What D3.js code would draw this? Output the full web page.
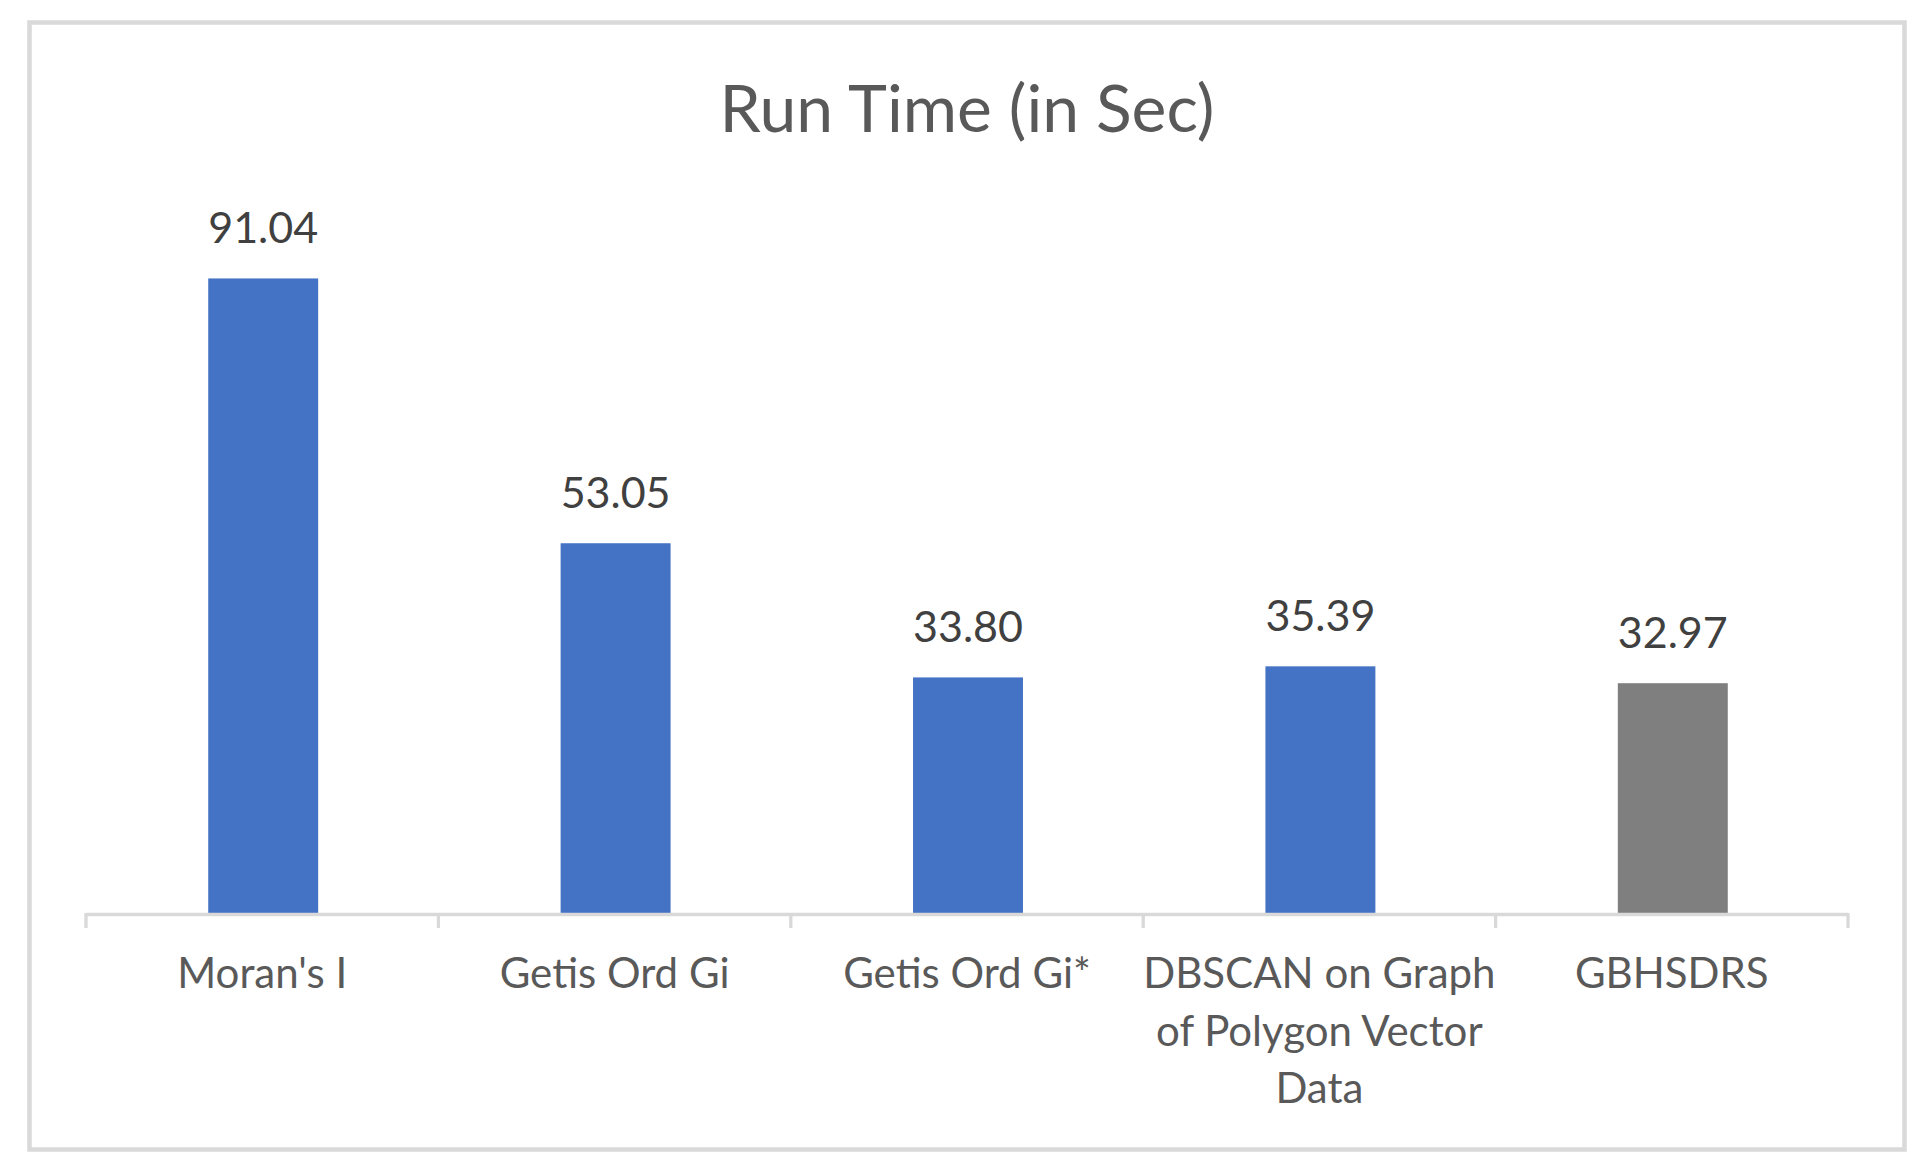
<!DOCTYPE html>
<html>
<head>
<meta charset="utf-8">
<script src="https://cdn.jsdelivr.net/npm/d3@7"></script>
<style>
  html, body { margin: 0; padding: 0; background: #ffffff; }
  svg { display: block; }
  text { font-family: Lato, "Open Sans", sans-serif; }
</style>
</head>
<body>
<script>
// ---- data ----
const title = "Run Time (in Sec)";
const categories = ["Moran's I", "Getis Ord Gi", "Getis Ord Gi*", "DBSCAN on Graph of Polygon Vector Data", "GBHSDRS"];
const tickLabels = [["Moran's I"], ["Getis Ord Gi"], ["Getis Ord Gi*"], ["DBSCAN on Graph", "of Polygon Vector", "Data"], ["GBHSDRS"]];
const values = [91.04, 53.05, 33.80, 35.39, 32.97];
const valueLabels = ["91.04", "53.05", "33.80", "35.39", "32.97"];
const barColors = ["#4472C4", "#4472C4", "#4472C4", "#4472C4", "#7F7F7F"];
const yDomain = [0, 100];

// ---- layout ----
const W = 1927, H = 1171;
const plot = { left: 86, right: 1848, top: 216, bottom: 913 };

const svg = d3.select("body").append("svg")
  .attr("width", W).attr("height", H);

// chart border
svg.append("rect")
  .attr("x", 29.5).attr("y", 22.5)
  .attr("width", 1875).attr("height", 1127)
  .attr("fill", "#ffffff")
  .attr("stroke", "#d9d9d9").attr("stroke-width", 4.5);

const x = d3.scaleBand().domain(categories).range([plot.left, plot.right]).paddingInner(0).paddingOuter(0);
const y = d3.scaleLinear().domain(yDomain).range([plot.bottom, plot.top]);
const barW = x.bandwidth() * 0.312;

// title
svg.append("text")
  .attr("x", (plot.left + plot.right) / 2).attr("y", 132)
  .attr("text-anchor", "middle")
  .attr("fill", "#595959")
  .attr("font-size", 66)
  .text(title);

// bars
svg.append("g").selectAll("rect").data(values).join("rect")
  .attr("x", (d, i) => x(categories[i]) + (x.bandwidth() - barW) / 2 + 1)
  .attr("y", d => y(d))
  .attr("width", barW)
  .attr("height", d => y(0) - y(d))
  .attr("fill", (d, i) => barColors[i]);

// data labels
svg.append("g").selectAll("text").data(values).join("text")
  .attr("x", (d, i) => x(categories[i]) + x.bandwidth() / 2 + 1)
  .attr("y", d => y(d) - 35)
  .attr("text-anchor", "middle")
  .attr("fill", "#404040")
  .attr("font-size", 43)
  .text((d, i) => valueLabels[i]);

// category axis: line + boundary ticks
const axisColor = "#d9d9d9";
const bounds = categories.map(c => x(c)).concat([x.range()[1]]);
const axisG = svg.append("g");
axisG.append("line")
  .attr("x1", x.range()[0]).attr("x2", x.range()[1])
  .attr("y1", y(0) + 1.5).attr("y2", y(0) + 1.5)
  .attr("stroke", axisColor).attr("stroke-width", 3.3);
axisG.selectAll("line.tick").data(bounds).join("line")
  .attr("class", "tick")
  .attr("x1", d => d).attr("x2", d => d)
  .attr("y1", y(0)).attr("y2", y(0) + 15)
  .attr("stroke", axisColor).attr("stroke-width", 3.3);

// category labels
const lab = svg.append("g").selectAll("text").data(categories).join("text")
  .attr("x", d => x(d) + x.bandwidth() / 2)
  .attr("y", 988)
  .attr("text-anchor", "middle")
  .attr("fill", "#595959")
  .attr("font-size", 42);
lab.each(function(d, i) {
  const t = d3.select(this);
  tickLabels[i].forEach((line, j) => {
    t.append("tspan")
      .attr("x", x(d) + x.bandwidth() / 2)
      .attr("dy", j === 0 ? 0 : 57.5)
      .text(line);
  });
});
</script>
</body>
</html>
